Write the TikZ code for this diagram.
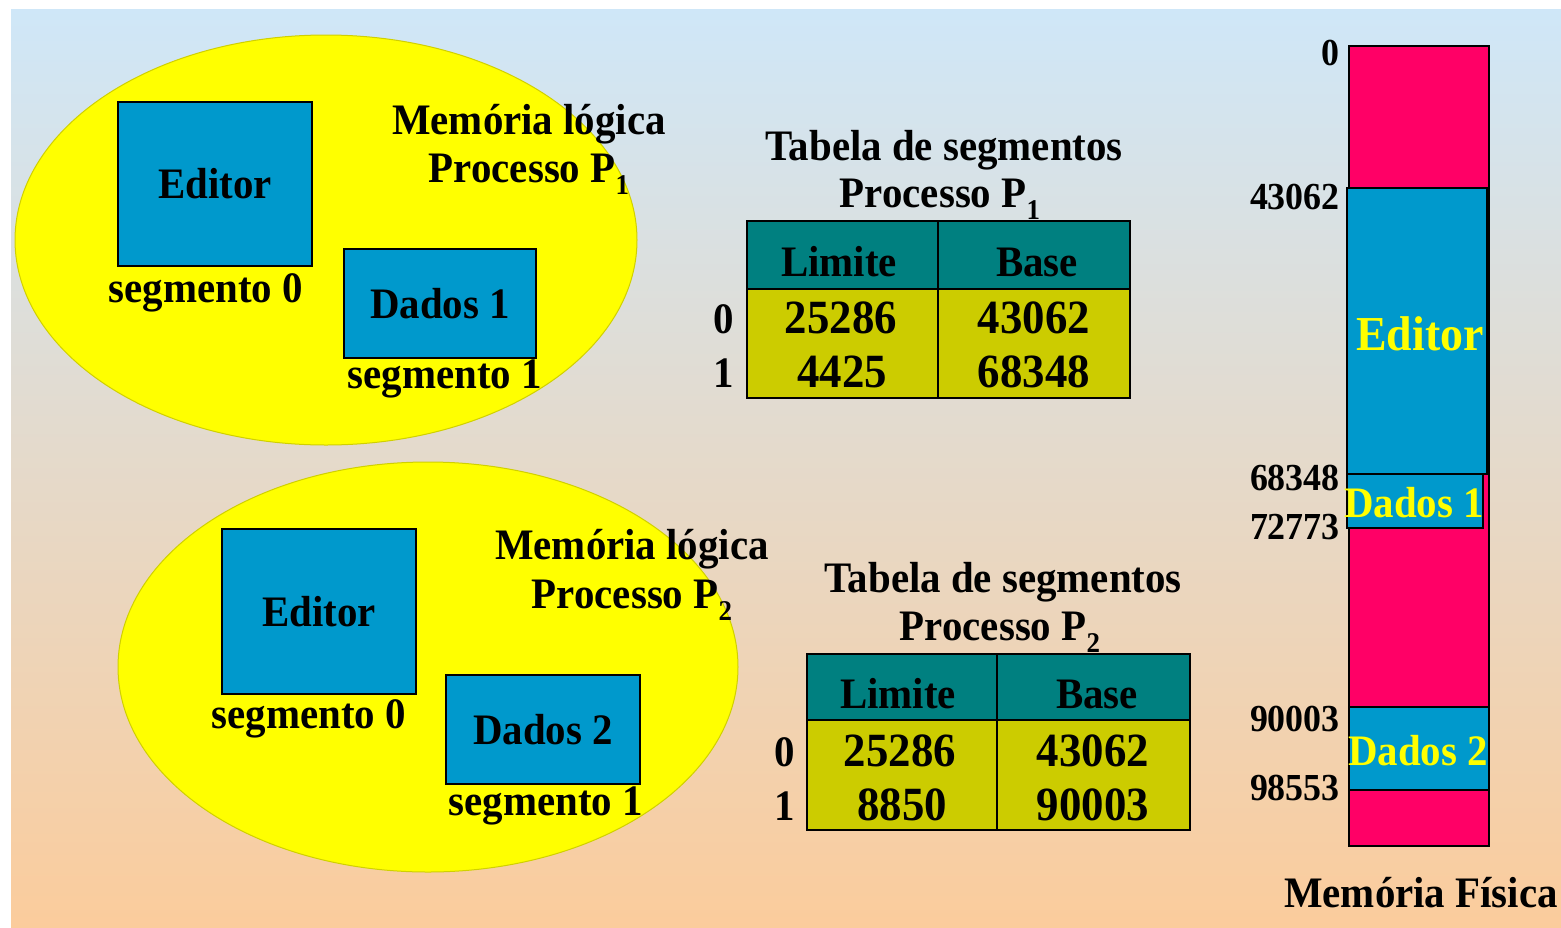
\documentclass[tikz,border=0pt]{standalone}
\usepackage{fontspec}
\setmainfont[FakeStretch=0.94]{Liberation Serif}
\usetikzlibrary{shapes.geometric}
\newcommand\subidx[1]{\raisebox{-12pt}{\fontsize{28.6}{28.6}\selectfont #1}}
\definecolor{bgtop}{HTML}{CFE7F8}
\definecolor{bgmid}{HTML}{E5DDD5}
\definecolor{bgbot}{HTML}{FBCC9C}
\definecolor{segblue}{HTML}{0099CC}
\definecolor{hdteal}{HTML}{008080}
\definecolor{rowolive}{HTML}{CCCC00}
\definecolor{mempink}{HTML}{FF0066}
\definecolor{elyellow}{HTML}{FFFF00}
\definecolor{elline}{HTML}{D0D000}
\begin{document}
\begin{tikzpicture}[x=1pt,y=-1pt,
  lbl/.style={font=\bfseries\fontsize{43.5}{43.5}\selectfont, inner sep=0pt, anchor=base},
  numlbl/.style={font=\bfseries\fontsize{47.7}{47.7}\selectfont, inner sep=0pt, anchor=base},
  addr/.style={font=\bfseries\fontsize{38.2}{38.2}\selectfont, inner sep=0pt, anchor=base east},
  memtxt/.style={font=\bfseries\fontsize{43.5}{43.5}\selectfont, inner sep=0pt, anchor=base, text=elyellow},
  blob/.style={ellipse, draw=elline, line width=1pt, fill=elyellow, inner sep=0pt},
  bluebox/.style={draw=black, line width=1.6pt, fill=segblue, inner sep=0pt, font=\bfseries\fontsize{43.5}{43.5}\selectfont},
  hdcell/.style={draw=black, line width=1.6pt, fill=hdteal, inner sep=0pt},
  bodycell/.style={draw=black, line width=1.6pt, fill=rowolive, inner sep=0pt},
  pinkcol/.style={draw=black, line width=1.6pt, fill=mempink, inner sep=0pt},
]
\useasboundingbox (0,0) rectangle (1561,927);
\fill[white] (0,0) rectangle (1561,927);
\shade[top color=bgtop, middle color=bgmid, bottom color=bgbot] (11,9) rectangle (1561,927);

% ---------- Process 1 logical memory ----------
\node[blob, minimum width=622pt, minimum height=410pt] (ell1) at (326,240) {};
\node[bluebox, minimum width=194pt, minimum height=164pt] (ed1) at (215,184) {Editor};
\node[bluebox, minimum width=192pt, minimum height=109pt] (da1) at (440,303.5) {Dados 1};
\node[lbl] (s10) at (206,302) {segmento 0};
\node[lbl] (s11) at (445,388) {segmento 1};
\node[lbl] (ml1) at (529,134) {Memória lógica};
\node[lbl] (pp1) at (529,182) {Processo P\subidx{1}};

% ---------- Table 1 ----------
\node[lbl] (tt1) at (944,160) {Tabela de segmentos};
\node[lbl] (tp1) at (940,207) {Processo P\subidx{1}};
\node[hdcell, minimum width=191pt, minimum height=68pt] (t1h1) at (842.5,255) {};
\node[hdcell, minimum width=192pt, minimum height=68pt] (t1h2) at (1034,255) {};
\node[bodycell, minimum width=191pt, minimum height=109pt] (t1b1) at (842.5,343.5) {};
\node[bodycell, minimum width=192pt, minimum height=109pt] (t1b2) at (1034,343.5) {};
\node[lbl] (t1lim) at (839,276) {Limite};
\node[lbl] (t1bas) at (1037,276) {Base};
\node[numlbl] (t1a) at (841,333) {25286};
\node[numlbl] (t1b) at (842,387) {4425};
\node[numlbl] (t1c) at (1034,333) {43062};
\node[numlbl] (t1d) at (1034,387) {68348};
\node[lbl] (t1r0) at (724,333) {0};
\node[lbl] (t1r1) at (724,387) {1};

% ---------- Process 2 logical memory ----------
\node[blob, minimum width=620pt, minimum height=410pt] (ell2) at (428,667) {};
\node[bluebox, minimum width=194pt, minimum height=165pt] (ed2) at (319,611.5) {Editor};
\node[bluebox, minimum width=194pt, minimum height=109pt] (da2) at (543,729.5) {Dados 2};
\node[lbl] (s20) at (309,728) {segmento 0};
\node[lbl] (s21) at (546,815) {segmento 1};
\node[lbl] (ml2) at (632,559) {Memória lógica};
\node[lbl] (pp2) at (632,608) {Processo P\subidx{2}};

% ---------- Table 2 ----------
\node[lbl] (tt2) at (1003,592) {Tabela de segmentos};
\node[lbl] (tp2) at (1000,640) {Processo P\subidx{2}};
\node[hdcell, minimum width=190pt, minimum height=66pt] (t2h1) at (902,687) {};
\node[hdcell, minimum width=193pt, minimum height=66pt] (t2h2) at (1093.5,687) {};
\node[bodycell, minimum width=190pt, minimum height=110pt] (t2b1) at (902,775) {};
\node[bodycell, minimum width=193pt, minimum height=110pt] (t2b2) at (1093.5,775) {};
\node[lbl] (t2lim) at (898,708) {Limite};
\node[lbl] (t2bas) at (1097,708) {Base};
\node[numlbl] (t2a) at (900,766) {25286};
\node[numlbl] (t2b) at (902,820) {8850};
\node[numlbl] (t2c) at (1093,766) {43062};
\node[numlbl] (t2d) at (1093,820) {90003};
\node[lbl] (t2r0) at (785,766) {0};
\node[lbl] (t2r1) at (785,820) {1};

% ---------- Physical memory ----------
\node[pinkcol, minimum width=140pt, minimum height=800pt] (mem) at (1419,446) {};
\node[pinkcol, fill=segblue, minimum width=140pt, minimum height=286pt] (med) at (1417,331) {};
\node[pinkcol, fill=segblue, minimum width=136pt, minimum height=54pt] (md1) at (1415,501) {};
\node[pinkcol, fill=segblue, minimum width=140pt, minimum height=83pt] (md2) at (1419,748.5) {};
\node[memtxt, font=\bfseries\fontsize{48.8}{48.8}\selectfont] (mtE) at (1420,350) {Editor};
\node[memtxt] (mt1) at (1414,517) {Dados 1};
\node[memtxt] (mt2) at (1418,765) {Dados 2};
\node[addr] (a0) at (1340,65) {0};
\node[addr] (a1) at (1340,209) {43062};
\node[addr] (a2) at (1340,490) {68348};
\node[addr] (a3) at (1340,539) {72773};
\node[addr] (a4) at (1340,731) {90003};
\node[addr] (a5) at (1340,800) {98553};
\node[lbl] (mf) at (1421,907) {Memória Física};
\end{tikzpicture}
\end{document}
